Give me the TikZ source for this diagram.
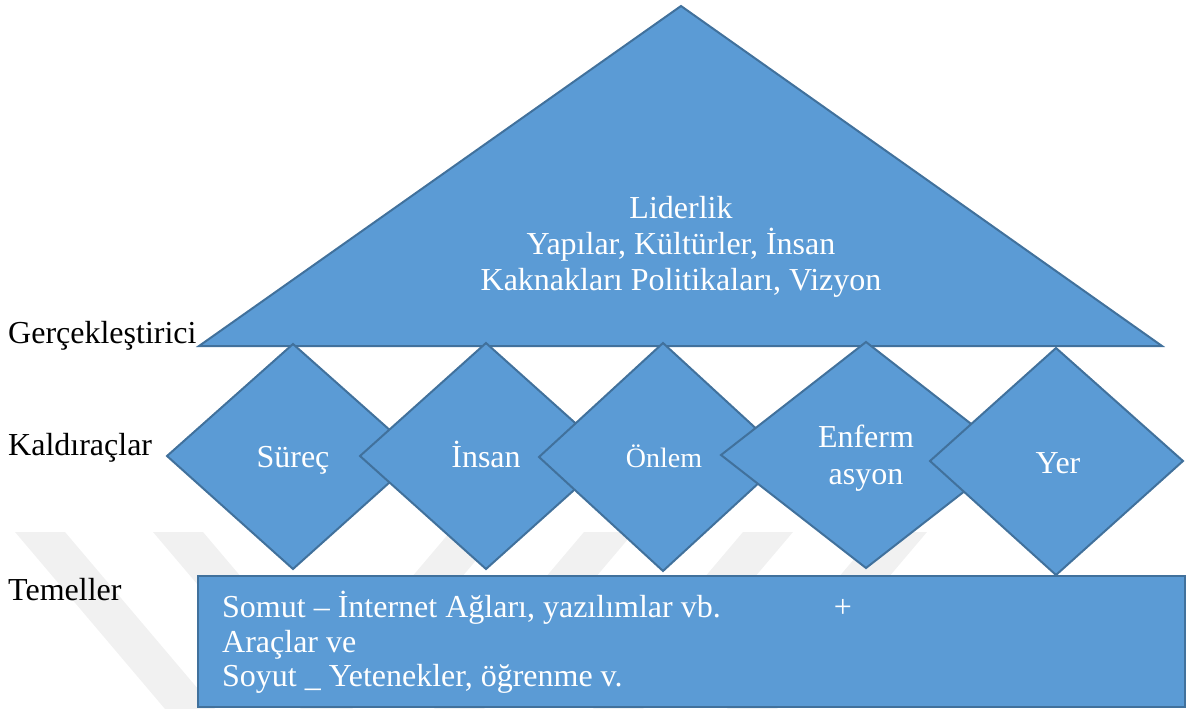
\documentclass[tikz,border=0pt]{standalone}
\usepackage{fontspec}
\setmainfont{Liberation Serif}
\definecolor{boxfill}{HTML}{5B9BD5}
\definecolor{boxline}{HTML}{41719C}
\definecolor{wmark}{HTML}{F1F1F1}
\begin{document}
\begin{tikzpicture}[x=1pt,y=-1pt,
  shapestyle/.style={fill=boxfill,draw=boxline,line width=2pt,line join=miter},
  lbl/.style={anchor=base west,inner sep=0pt,font=\fontsize{32}{36}\selectfont,text=black},
  wtext/.style={anchor=base,inner sep=0pt,font=\fontsize{32}{36}\selectfont,text=white},
  wleft/.style={anchor=base west,inner sep=0pt,font=\fontsize{32}{36}\selectfont,text=white}]
\useasboundingbox (0,0) rectangle (1192,709);
% faint watermark bands
\fill[wmark] (15,532) -- (65,532) -- (215,709) -- (165,709) -- cycle;
\fill[wmark] (153,532) -- (203,532) -- (353,709) -- (303,709) -- cycle;
\fill[wmark] (450,532) -- (500,532) -- (350,709) -- (300,709) -- cycle;
\fill[wmark] (584,532) -- (634,532) -- (484,709) -- (434,709) -- cycle;
\fill[wmark] (743,532) -- (793,532) -- (643,709) -- (593,709) -- cycle;
\fill[wmark] (877,532) -- (927,532) -- (777,709) -- (727,709) -- cycle;
% triangle
\draw[shapestyle] (199,346) -- (681,6) -- (1162,346) -- cycle;
% diamonds
\draw[shapestyle] (293,344) -- (419,456) -- (293,569) -- (167,456) -- cycle;
\draw[shapestyle] (486,343) -- (612,456) -- (486,569) -- (360,456) -- cycle;
\draw[shapestyle] (663,343) -- (787,457) -- (663,571) -- (539,457) -- cycle;
\draw[shapestyle] (866,342) -- (1011,455) -- (866,568) -- (721,455) -- cycle;
\draw[shapestyle] (1056,348) -- (1183,461) -- (1056,575) -- (930,461) -- cycle;
% rectangle
\draw[shapestyle] (198,576) rectangle (1185,707);
% left labels
\node[lbl] (g) at (8,343) {Gerçekleştirici};
\node[lbl] (k) at (8,455) {Kaldıraçlar};
\node[lbl] (t) at (8,600) {Temeller};
% triangle text
\node[wtext] (l1) at (681,218) {Liderlik};
\node[wtext] (l2) at (681,254) {Yapılar, Kültürler, İnsan};
\node[wtext] (l3) at (681,290) {Kaknakları Politikaları, Vizyon};
% diamond texts
\node[wtext] (d1) at (293,467) {Süreç};
\node[wtext] (d2) at (486,467) {İnsan};
\node[wtext,font=\fontsize{28}{32}\selectfont] (d3) at (664,467) {Önlem};
\node[wtext] (d4a) at (866,447) {Enferm};
\node[wtext] (d4b) at (866,484) {asyon};
\node[wtext] (d5) at (1058,473) {Yer};
% rectangle texts
\node[wleft] (r1) at (222,617) {Somut – İnternet Ağları, yazılımlar vb.};
\node[wtext] (plus) at (843,617) {+};
\node[wleft] (r2) at (222,652) {Araçlar ve};
\node[wleft] (r3) at (222,686) {Soyut \_ Yetenekler, öğrenme v.};
\end{tikzpicture}
\end{document}
